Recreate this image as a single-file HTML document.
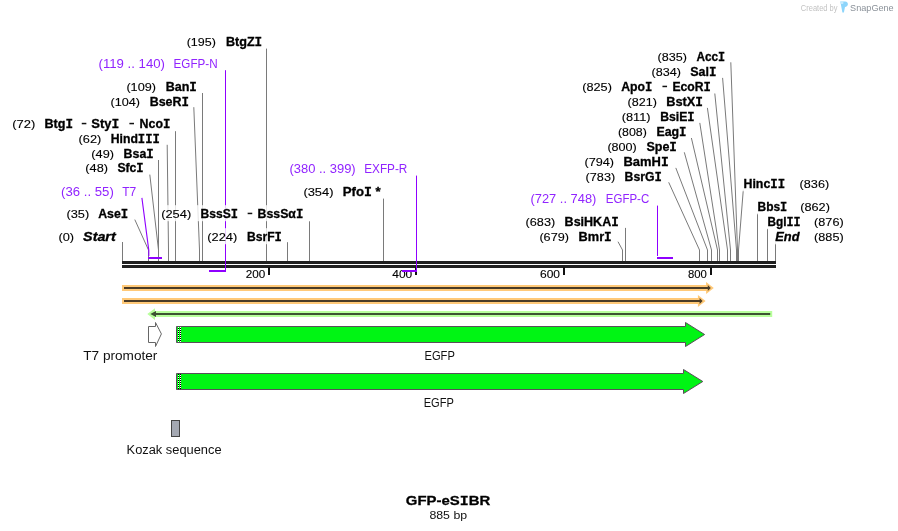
<!DOCTYPE html><html><head><meta charset="utf-8"><style>html,body{margin:0;padding:0;background:#fff;width:898px;height:531px;overflow:hidden;position:relative}svg text{font-family:"Liberation Sans",sans-serif} svg{will-change:transform}</style></head><body><svg width="898" height="531" viewBox="0 0 898 531" style="position:absolute;left:0;top:0">
<rect width="898" height="531" fill="#ffffff"/>
<path d="M122.50,242.00 L122.50,261.00" stroke="#7a7a7a" stroke-width="1" fill="none"/>
<path d="M134.80,219.60 L148.50,250.00 L148.50,261.00" stroke="#7a7a7a" stroke-width="1" fill="none"/>
<path d="M149.80,174.60 L158.50,250.00 L158.50,261.00" stroke="#7a7a7a" stroke-width="1" fill="none"/>
<path d="M158.50,160.00 L158.50,261.00" stroke="#7a7a7a" stroke-width="1" fill="none"/>
<path d="M167.20,144.80 L168.50,250.00 L168.50,261.00" stroke="#7a7a7a" stroke-width="1" fill="none"/>
<path d="M175.50,131.20 L175.50,261.00" stroke="#7a7a7a" stroke-width="1" fill="none"/>
<path d="M193.80,107.20 L199.50,250.00 L199.50,261.00" stroke="#7a7a7a" stroke-width="1" fill="none"/>
<path d="M202.50,93.00 L202.50,261.00" stroke="#7a7a7a" stroke-width="1" fill="none"/>
<path d="M266.50,48.60 L266.50,261.00" stroke="#7a7a7a" stroke-width="1" fill="none"/>
<path d="M287.50,242.20 L287.50,261.00" stroke="#7a7a7a" stroke-width="1" fill="none"/>
<path d="M309.50,221.30 L309.50,261.00" stroke="#7a7a7a" stroke-width="1" fill="none"/>
<path d="M383.50,198.60 L383.50,261.00" stroke="#7a7a7a" stroke-width="1" fill="none"/>
<path d="M618.00,241.70 L622.50,250.00 L622.50,261.00" stroke="#7a7a7a" stroke-width="1" fill="none"/>
<path d="M625.50,227.90 L625.50,261.00" stroke="#7a7a7a" stroke-width="1" fill="none"/>
<path d="M668.70,182.30 L699.50,250.00 L699.50,261.00" stroke="#7a7a7a" stroke-width="1" fill="none"/>
<path d="M675.80,167.90 L707.50,250.00 L707.50,261.00" stroke="#7a7a7a" stroke-width="1" fill="none"/>
<path d="M684.30,152.30 L711.50,250.00 L711.50,261.00" stroke="#7a7a7a" stroke-width="1" fill="none"/>
<path d="M691.40,138.00 L717.50,250.00 L717.50,261.00" stroke="#7a7a7a" stroke-width="1" fill="none"/>
<path d="M699.80,122.90 L719.50,250.00 L719.50,261.00" stroke="#7a7a7a" stroke-width="1" fill="none"/>
<path d="M707.40,107.90 L727.50,250.00 L727.50,261.00" stroke="#7a7a7a" stroke-width="1" fill="none"/>
<path d="M714.80,93.50 L730.50,250.00 L730.50,261.00" stroke="#7a7a7a" stroke-width="1" fill="none"/>
<path d="M722.60,77.90 L736.50,250.00 L736.50,261.00" stroke="#7a7a7a" stroke-width="1" fill="none"/>
<path d="M730.80,62.30 L737.50,250.00 L737.50,261.00" stroke="#7a7a7a" stroke-width="1" fill="none"/>
<path d="M743.30,189.70 L738.50,250.00 L738.50,261.00" stroke="#7a7a7a" stroke-width="1" fill="none"/>
<path d="M757.50,213.00 L757.50,261.00" stroke="#7a7a7a" stroke-width="1" fill="none"/>
<path d="M767.50,228.40 L767.50,261.00" stroke="#7a7a7a" stroke-width="1" fill="none"/>
<path d="M775.50,242.40 L775.50,261.00" stroke="#7a7a7a" stroke-width="1" fill="none"/>
<path d="M141.9,197.9 L148.8,250.4 L148.8,256" stroke="#8f00ff" stroke-width="1.1" fill="none"/>
<rect x="148" y="257" width="14" height="2" fill="#8f00ff"/>
<path d="M657.5,205.6 L657.5,256" stroke="#8f00ff" stroke-width="1" fill="none"/>
<rect x="657" y="257" width="16" height="2" fill="#8f00ff"/>
<rect x="122" y="261" width="654" height="3" fill="#202020"/>
<rect x="122" y="265" width="654" height="3" fill="#202020"/>
<path d="M122,285 L706.0999999999999,285 L706.0999999999999,282 L713.8,288 L706.0999999999999,294 L706.0999999999999,291 L122,291 Z" fill="#ffc978"/>
<path d="M124,287 L707.8,287 L707.8,285 L710.8,288 L707.8,291 L707.8,289 L124,289 Z" fill="#4a3b26"/>
<path d="M122,298 L697.9,298 L697.9,295 L705.6,301 L697.9,307 L697.9,304 L122,304 Z" fill="#ffc978"/>
<path d="M124,300 L699.6,300 L699.6,298 L702.6,301 L699.6,304 L699.6,302 L124,302 Z" fill="#4a3b26"/>
<path d="M772.2,311 L155,311 L155,308.2 L147.3,314 L155,320 L155,317 L772.2,317 Z" fill="#b8ff9c"/>
<path d="M770.2,313 L156,313 L156,311 L150.3,314 L156,317 L156,315 L770.2,315 Z" fill="#3d5232"/>
<path d="M148.5,326.5 L155.5,326.5 L155.5,322.5 L161.4,333.9 L155.5,346.5 L155.5,342.5 L148.5,342.5 Z" fill="#fff" stroke="#666" stroke-width="1"/>
<path d="M176.5,326.5 L685.5,326.5 L685.5,322.5 L704.6,334.5 L685.5,346.5 L685.5,342.5 L176.5,342.5 Z" fill="#00f514" stroke="#5a4e5a" stroke-width="1"/>
<rect x="178" y="327" width="1" height="1" fill="#fff"/>
<rect x="180" y="327" width="1" height="1" fill="#fff"/>
<rect x="178" y="328" width="1" height="1" fill="#000"/>
<rect x="180" y="328" width="1" height="1" fill="#000"/>
<rect x="178" y="329" width="1" height="1" fill="#fff"/>
<rect x="180" y="329" width="1" height="1" fill="#fff"/>
<rect x="178" y="330" width="1" height="1" fill="#000"/>
<rect x="180" y="330" width="1" height="1" fill="#000"/>
<rect x="178" y="331" width="1" height="1" fill="#fff"/>
<rect x="180" y="331" width="1" height="1" fill="#fff"/>
<rect x="178" y="332" width="1" height="1" fill="#000"/>
<rect x="180" y="332" width="1" height="1" fill="#000"/>
<rect x="178" y="333" width="1" height="1" fill="#fff"/>
<rect x="180" y="333" width="1" height="1" fill="#fff"/>
<rect x="178" y="334" width="1" height="1" fill="#000"/>
<rect x="180" y="334" width="1" height="1" fill="#000"/>
<rect x="178" y="335" width="1" height="1" fill="#fff"/>
<rect x="180" y="335" width="1" height="1" fill="#fff"/>
<rect x="178" y="336" width="1" height="1" fill="#000"/>
<rect x="180" y="336" width="1" height="1" fill="#000"/>
<rect x="178" y="337" width="1" height="1" fill="#fff"/>
<rect x="180" y="337" width="1" height="1" fill="#fff"/>
<rect x="178" y="338" width="1" height="1" fill="#000"/>
<rect x="180" y="338" width="1" height="1" fill="#000"/>
<rect x="178" y="339" width="1" height="1" fill="#fff"/>
<rect x="180" y="339" width="1" height="1" fill="#fff"/>
<rect x="178" y="340" width="1" height="1" fill="#000"/>
<rect x="180" y="340" width="1" height="1" fill="#000"/>
<rect x="178" y="341" width="1" height="1" fill="#fff"/>
<rect x="180" y="341" width="1" height="1" fill="#fff"/>
<path d="M176.5,373.5 L683.5,373.5 L683.5,369.5 L702.8,381.5 L683.5,393.5 L683.5,389.5 L176.5,389.5 Z" fill="#00f514" stroke="#5a4e5a" stroke-width="1"/>
<rect x="178" y="374" width="1" height="1" fill="#000"/>
<rect x="180" y="374" width="1" height="1" fill="#000"/>
<rect x="178" y="375" width="1" height="1" fill="#fff"/>
<rect x="180" y="375" width="1" height="1" fill="#fff"/>
<rect x="178" y="376" width="1" height="1" fill="#000"/>
<rect x="180" y="376" width="1" height="1" fill="#000"/>
<rect x="178" y="377" width="1" height="1" fill="#fff"/>
<rect x="180" y="377" width="1" height="1" fill="#fff"/>
<rect x="178" y="378" width="1" height="1" fill="#000"/>
<rect x="180" y="378" width="1" height="1" fill="#000"/>
<rect x="178" y="379" width="1" height="1" fill="#fff"/>
<rect x="180" y="379" width="1" height="1" fill="#fff"/>
<rect x="178" y="380" width="1" height="1" fill="#000"/>
<rect x="180" y="380" width="1" height="1" fill="#000"/>
<rect x="178" y="381" width="1" height="1" fill="#fff"/>
<rect x="180" y="381" width="1" height="1" fill="#fff"/>
<rect x="178" y="382" width="1" height="1" fill="#000"/>
<rect x="180" y="382" width="1" height="1" fill="#000"/>
<rect x="178" y="383" width="1" height="1" fill="#fff"/>
<rect x="180" y="383" width="1" height="1" fill="#fff"/>
<rect x="178" y="384" width="1" height="1" fill="#000"/>
<rect x="180" y="384" width="1" height="1" fill="#000"/>
<rect x="178" y="385" width="1" height="1" fill="#fff"/>
<rect x="180" y="385" width="1" height="1" fill="#fff"/>
<rect x="178" y="386" width="1" height="1" fill="#000"/>
<rect x="180" y="386" width="1" height="1" fill="#000"/>
<rect x="178" y="387" width="1" height="1" fill="#fff"/>
<rect x="180" y="387" width="1" height="1" fill="#fff"/>
<rect x="178" y="388" width="1" height="1" fill="#000"/>
<rect x="180" y="388" width="1" height="1" fill="#000"/>
<rect x="171.5" y="420.5" width="8" height="16" fill="#a4a8b2" stroke="#444" stroke-width="1"/>
<path d="M840.3,1.5 L845,1.5 C847.3,1.5 847.9,3 847.9,4.3 C847.9,5.8 846.6,6.9 845,6.9 L843.9,12.6 L842.4,12.6 Z" fill="#8dd5fb"/>
<path d="M840.3,1.5 L843.5,1.5 L843.2,4 L840.9,4 Z" fill="#c5ebff"/>
<rect x="268" y="267" width="2" height="8" fill="#111"/>
<rect x="415" y="267" width="2" height="8" fill="#111"/>
<rect x="563" y="267" width="2" height="8" fill="#111"/>
<rect x="710" y="267" width="2" height="8" fill="#111"/>
<text id="t70" x="245.80" y="277.70" textLength="19.51" lengthAdjust="spacingAndGlyphs" font-size="11.5" font-weight="normal" font-style="normal" fill="#000000" stroke="#000000" stroke-width="0.12">200</text>
<text id="t71" x="392.30" y="277.70" textLength="19.91" lengthAdjust="spacingAndGlyphs" font-size="11.5" font-weight="normal" font-style="normal" fill="#000000" stroke="#000000" stroke-width="0.12">400</text>
<text id="t72" x="540.00" y="277.70" textLength="20.01" lengthAdjust="spacingAndGlyphs" font-size="11.5" font-weight="normal" font-style="normal" fill="#000000" stroke="#000000" stroke-width="0.12">600</text>
<text id="t73" x="687.90" y="277.70" textLength="18.91" lengthAdjust="spacingAndGlyphs" font-size="11.5" font-weight="normal" font-style="normal" fill="#000000" stroke="#000000" stroke-width="0.12">800</text>
<path d="M225.5,70.2 L225.5,272" stroke="#8f00ff" stroke-width="1" fill="none"/>
<rect x="209" y="270" width="17" height="2" fill="#8f00ff"/>
<path d="M416.5,175.6 L416.5,272" stroke="#8f00ff" stroke-width="1" fill="none"/>
<rect x="402" y="270" width="15" height="2" fill="#8f00ff"/>
<rect x="184.7" y="33.2" width="79.5" height="16" fill="#fff" fill-opacity="0.8"/>
<rect x="96.5" y="55.5" width="123.1" height="16" fill="#fff" fill-opacity="0.8"/>
<rect x="124.4" y="78.2" width="74.5" height="16" fill="#fff" fill-opacity="0.8"/>
<rect x="108.5" y="93.0" width="82.5" height="16" fill="#fff" fill-opacity="0.8"/>
<rect x="10.2" y="115.3" width="162.2" height="16" fill="#fff" fill-opacity="0.8"/>
<rect x="76.6" y="130.5" width="85.3" height="16" fill="#fff" fill-opacity="0.8"/>
<rect x="89.3" y="145.4" width="66.4" height="16" fill="#fff" fill-opacity="0.8"/>
<rect x="83.3" y="159.9" width="62.4" height="16" fill="#fff" fill-opacity="0.8"/>
<rect x="59.1" y="183.1" width="79.2" height="16" fill="#fff" fill-opacity="0.8"/>
<rect x="64.5" y="205.2" width="65.7" height="16" fill="#fff" fill-opacity="0.8"/>
<rect x="56.5" y="228.2" width="61.7" height="16" fill="#fff" fill-opacity="0.8"/>
<rect x="159.2" y="205.2" width="146.1" height="16" fill="#fff" fill-opacity="0.8"/>
<rect x="205.3" y="228.2" width="78.6" height="16" fill="#fff" fill-opacity="0.8"/>
<rect x="287.4" y="160.5" width="122.0" height="16" fill="#fff" fill-opacity="0.8"/>
<rect x="301.4" y="183.2" width="81.3" height="16" fill="#fff" fill-opacity="0.8"/>
<rect x="528.5" y="190.5" width="122.7" height="16" fill="#fff" fill-opacity="0.8"/>
<rect x="523.6" y="213.2" width="97.1" height="16" fill="#fff" fill-opacity="0.8"/>
<rect x="537.4" y="228.1" width="76.4" height="16" fill="#fff" fill-opacity="0.8"/>
<rect x="655.5" y="48.2" width="71.7" height="16" fill="#fff" fill-opacity="0.8"/>
<rect x="649.5" y="63.2" width="69.0" height="16" fill="#fff" fill-opacity="0.8"/>
<rect x="580.2" y="78.2" width="132.6" height="16" fill="#fff" fill-opacity="0.8"/>
<rect x="625.5" y="93.2" width="79.5" height="16" fill="#fff" fill-opacity="0.8"/>
<rect x="619.7" y="108.2" width="77.0" height="16" fill="#fff" fill-opacity="0.8"/>
<rect x="615.9" y="123.2" width="72.6" height="16" fill="#fff" fill-opacity="0.8"/>
<rect x="605.4" y="138.2" width="73.5" height="16" fill="#fff" fill-opacity="0.8"/>
<rect x="582.5" y="153.2" width="88.2" height="16" fill="#fff" fill-opacity="0.8"/>
<rect x="583.6" y="168.2" width="80.2" height="16" fill="#fff" fill-opacity="0.8"/>
<rect x="741.5" y="175.3" width="89.7" height="16" fill="#fff" fill-opacity="0.8"/>
<rect x="755.5" y="198.3" width="76.4" height="16" fill="#fff" fill-opacity="0.8"/>
<rect x="765.5" y="213.2" width="80.2" height="16" fill="#fff" fill-opacity="0.8"/>
<rect x="773.3" y="228.3" width="72.4" height="16" fill="#fff" fill-opacity="0.8"/>
<text id="t0" x="186.70" y="45.70" textLength="29.20" lengthAdjust="spacingAndGlyphs" font-size="11.5" font-weight="normal" font-style="normal" fill="#000000" stroke="#000000" stroke-width="0.12">(195)</text>
<text id="t1" x="225.90" y="45.70" textLength="36.30" lengthAdjust="spacingAndGlyphs" font-size="12.0" font-weight="bold" font-style="normal" fill="#000000" stroke="#000000" stroke-width="0.3">BtgZ<tspan font-family="Liberation Mono" font-size="12.00">I</tspan></text>
<text id="t2" x="98.50" y="68.00" textLength="66.51" lengthAdjust="spacingAndGlyphs" font-size="12.0" font-weight="normal" font-style="normal" fill="#9124ff">(119 .. 140)</text>
<text id="t3" x="173.60" y="68.00" textLength="44.01" lengthAdjust="spacingAndGlyphs" font-size="12.0" font-weight="normal" font-style="normal" fill="#9124ff">EGFP-N</text>
<text id="t4" x="126.40" y="90.70" textLength="29.60" lengthAdjust="spacingAndGlyphs" font-size="11.5" font-weight="normal" font-style="normal" fill="#000000" stroke="#000000" stroke-width="0.12">(109)</text>
<text id="t5" x="165.70" y="90.70" textLength="31.20" lengthAdjust="spacingAndGlyphs" font-size="12.0" font-weight="bold" font-style="normal" fill="#000000" stroke="#000000" stroke-width="0.3">Ban<tspan font-family="Liberation Mono" font-size="12.00">I</tspan></text>
<text id="t6" x="110.50" y="105.50" textLength="29.50" lengthAdjust="spacingAndGlyphs" font-size="11.5" font-weight="normal" font-style="normal" fill="#000000" stroke="#000000" stroke-width="0.12">(104)</text>
<text id="t7" x="149.70" y="105.50" textLength="39.30" lengthAdjust="spacingAndGlyphs" font-size="12.0" font-weight="bold" font-style="normal" fill="#000000" stroke="#000000" stroke-width="0.3">BseR<tspan font-family="Liberation Mono" font-size="12.00">I</tspan></text>
<text id="t8" x="12.20" y="127.80" textLength="23.00" lengthAdjust="spacingAndGlyphs" font-size="11.5" font-weight="normal" font-style="normal" fill="#000000" stroke="#000000" stroke-width="0.12">(72)</text>
<text id="t9" x="44.50" y="127.80" textLength="28.50" lengthAdjust="spacingAndGlyphs" font-size="12.0" font-weight="bold" font-style="normal" fill="#000000" stroke="#000000" stroke-width="0.3">Btg<tspan font-family="Liberation Mono" font-size="12.00">I</tspan></text>
<rect id="t10" x="81.75" y="122.80" width="4.6" height="1.5" fill="#111"/>
<text id="t11" x="91.30" y="127.80" textLength="27.90" lengthAdjust="spacingAndGlyphs" font-size="12.0" font-weight="bold" font-style="normal" fill="#000000" stroke="#000000" stroke-width="0.3">Sty<tspan font-family="Liberation Mono" font-size="12.00">I</tspan></text>
<rect id="t12" x="129.40" y="122.80" width="4.6" height="1.5" fill="#111"/>
<text id="t13" x="139.60" y="127.80" textLength="30.80" lengthAdjust="spacingAndGlyphs" font-size="12.0" font-weight="bold" font-style="normal" fill="#000000" stroke="#000000" stroke-width="0.3">Nco<tspan font-family="Liberation Mono" font-size="12.00">I</tspan></text>
<text id="t14" x="78.60" y="143.00" textLength="22.70" lengthAdjust="spacingAndGlyphs" font-size="11.5" font-weight="normal" font-style="normal" fill="#000000" stroke="#000000" stroke-width="0.12">(62)</text>
<text id="t15" x="110.70" y="143.00" textLength="49.20" lengthAdjust="spacingAndGlyphs" font-size="12.0" font-weight="bold" font-style="normal" fill="#000000" stroke="#000000" stroke-width="0.3">Hind<tspan font-family="Liberation Mono" font-size="12.00">I</tspan><tspan font-family="Liberation Mono" font-size="12.00">I</tspan><tspan font-family="Liberation Mono" font-size="12.00">I</tspan></text>
<text id="t16" x="91.30" y="157.90" textLength="22.70" lengthAdjust="spacingAndGlyphs" font-size="11.5" font-weight="normal" font-style="normal" fill="#000000" stroke="#000000" stroke-width="0.12">(49)</text>
<text id="t17" x="123.60" y="157.90" textLength="30.10" lengthAdjust="spacingAndGlyphs" font-size="12.0" font-weight="bold" font-style="normal" fill="#000000" stroke="#000000" stroke-width="0.3">Bsa<tspan font-family="Liberation Mono" font-size="12.00">I</tspan></text>
<text id="t18" x="85.30" y="172.40" textLength="22.70" lengthAdjust="spacingAndGlyphs" font-size="11.5" font-weight="normal" font-style="normal" fill="#000000" stroke="#000000" stroke-width="0.12">(48)</text>
<text id="t19" x="117.40" y="172.40" textLength="26.30" lengthAdjust="spacingAndGlyphs" font-size="12.0" font-weight="bold" font-style="normal" fill="#000000" stroke="#000000" stroke-width="0.3">Sfc<tspan font-family="Liberation Mono" font-size="12.00">I</tspan></text>
<text id="t20" x="61.10" y="195.60" textLength="52.70" lengthAdjust="spacingAndGlyphs" font-size="12.0" font-weight="normal" font-style="normal" fill="#9124ff">(36 .. 55)</text>
<text id="t21" x="122.20" y="195.60" textLength="14.10" lengthAdjust="spacingAndGlyphs" font-size="12.0" font-weight="normal" font-style="normal" fill="#9124ff">T7</text>
<text id="t22" x="66.50" y="217.70" textLength="22.70" lengthAdjust="spacingAndGlyphs" font-size="11.5" font-weight="normal" font-style="normal" fill="#000000" stroke="#000000" stroke-width="0.12">(35)</text>
<text id="t23" x="98.20" y="217.70" textLength="30.00" lengthAdjust="spacingAndGlyphs" font-size="12.0" font-weight="bold" font-style="normal" fill="#000000" stroke="#000000" stroke-width="0.3">Ase<tspan font-family="Liberation Mono" font-size="12.00">I</tspan></text>
<text id="t24" x="58.50" y="240.70" textLength="15.61" lengthAdjust="spacingAndGlyphs" font-size="11.5" font-weight="normal" font-style="normal" fill="#000000" stroke="#000000" stroke-width="0.12">(0)</text>
<text id="t25" x="83.10" y="240.70" textLength="32.58" lengthAdjust="spacingAndGlyphs" font-size="12.0" font-weight="bold" font-style="italic" fill="#000000" stroke="#000000" stroke-width="0.3">Start</text>
<text id="t26" x="161.20" y="217.70" textLength="30.00" lengthAdjust="spacingAndGlyphs" font-size="11.5" font-weight="normal" font-style="normal" fill="#000000" stroke="#000000" stroke-width="0.12">(254)</text>
<text id="t27" x="200.60" y="217.70" textLength="37.40" lengthAdjust="spacingAndGlyphs" font-size="12.0" font-weight="bold" font-style="normal" fill="#000000" stroke="#000000" stroke-width="0.3">BssS<tspan font-family="Liberation Mono" font-size="12.00">I</tspan></text>
<rect id="t28" x="247.65" y="212.70" width="4.6" height="1.5" fill="#111"/>
<text id="t29" x="257.60" y="217.70" textLength="45.70" lengthAdjust="spacingAndGlyphs" font-size="12.0" font-weight="bold" font-style="normal" fill="#000000" stroke="#000000" stroke-width="0.3">BssSα<tspan font-family="Liberation Mono" font-size="12.00">I</tspan></text>
<text id="t30" x="207.30" y="240.70" textLength="30.00" lengthAdjust="spacingAndGlyphs" font-size="11.5" font-weight="normal" font-style="normal" fill="#000000" stroke="#000000" stroke-width="0.12">(224)</text>
<text id="t31" x="246.90" y="240.70" textLength="35.00" lengthAdjust="spacingAndGlyphs" font-size="12.0" font-weight="bold" font-style="normal" fill="#000000" stroke="#000000" stroke-width="0.3">BsrF<tspan font-family="Liberation Mono" font-size="12.00">I</tspan></text>
<text id="t32" x="289.40" y="173.00" textLength="66.30" lengthAdjust="spacingAndGlyphs" font-size="12.0" font-weight="normal" font-style="normal" fill="#9124ff">(380 .. 399)</text>
<text id="t33" x="364.20" y="173.00" textLength="43.20" lengthAdjust="spacingAndGlyphs" font-size="12.0" font-weight="normal" font-style="normal" fill="#9124ff">EXFP-R</text>
<text id="t34" x="303.40" y="195.70" textLength="30.10" lengthAdjust="spacingAndGlyphs" font-size="11.5" font-weight="normal" font-style="normal" fill="#000000" stroke="#000000" stroke-width="0.12">(354)</text>
<text id="t35" x="342.80" y="195.70" textLength="37.90" lengthAdjust="spacingAndGlyphs" font-size="12.0" font-weight="bold" font-style="normal" fill="#000000" stroke="#000000" stroke-width="0.3">Pfo<tspan font-family="Liberation Mono" font-size="12.00">I</tspan> *</text>
<text id="t36" x="530.50" y="203.00" textLength="65.90" lengthAdjust="spacingAndGlyphs" font-size="12.0" font-weight="normal" font-style="normal" fill="#9124ff">(727 .. 748)</text>
<text id="t37" x="605.80" y="203.00" textLength="43.41" lengthAdjust="spacingAndGlyphs" font-size="12.0" font-weight="normal" font-style="normal" fill="#9124ff">EGFP-C</text>
<text id="t38" x="525.60" y="225.70" textLength="29.60" lengthAdjust="spacingAndGlyphs" font-size="11.5" font-weight="normal" font-style="normal" fill="#000000" stroke="#000000" stroke-width="0.12">(683)</text>
<text id="t39" x="564.60" y="225.70" textLength="54.10" lengthAdjust="spacingAndGlyphs" font-size="12.0" font-weight="bold" font-style="normal" fill="#000000" stroke="#000000" stroke-width="0.3">BsiHKA<tspan font-family="Liberation Mono" font-size="12.00">I</tspan></text>
<text id="t40" x="539.40" y="240.60" textLength="29.60" lengthAdjust="spacingAndGlyphs" font-size="11.5" font-weight="normal" font-style="normal" fill="#000000" stroke="#000000" stroke-width="0.12">(679)</text>
<text id="t41" x="578.60" y="240.60" textLength="33.20" lengthAdjust="spacingAndGlyphs" font-size="12.0" font-weight="bold" font-style="normal" fill="#000000" stroke="#000000" stroke-width="0.3">Bmr<tspan font-family="Liberation Mono" font-size="12.00">I</tspan></text>
<text id="t42" x="657.50" y="60.70" textLength="29.40" lengthAdjust="spacingAndGlyphs" font-size="11.5" font-weight="normal" font-style="normal" fill="#000000" stroke="#000000" stroke-width="0.12">(835)</text>
<text id="t43" x="696.50" y="60.70" textLength="28.70" lengthAdjust="spacingAndGlyphs" font-size="12.0" font-weight="bold" font-style="normal" fill="#000000" stroke="#000000" stroke-width="0.3">Acc<tspan font-family="Liberation Mono" font-size="12.00">I</tspan></text>
<text id="t44" x="651.50" y="75.70" textLength="29.40" lengthAdjust="spacingAndGlyphs" font-size="11.5" font-weight="normal" font-style="normal" fill="#000000" stroke="#000000" stroke-width="0.12">(834)</text>
<text id="t45" x="690.30" y="75.70" textLength="26.20" lengthAdjust="spacingAndGlyphs" font-size="12.0" font-weight="bold" font-style="normal" fill="#000000" stroke="#000000" stroke-width="0.3">Sal<tspan font-family="Liberation Mono" font-size="12.00">I</tspan></text>
<text id="t46" x="582.20" y="90.70" textLength="29.70" lengthAdjust="spacingAndGlyphs" font-size="11.5" font-weight="normal" font-style="normal" fill="#000000" stroke="#000000" stroke-width="0.12">(825)</text>
<text id="t47" x="621.20" y="90.70" textLength="31.20" lengthAdjust="spacingAndGlyphs" font-size="12.0" font-weight="bold" font-style="normal" fill="#000000" stroke="#000000" stroke-width="0.3">Apo<tspan font-family="Liberation Mono" font-size="12.00">I</tspan></text>
<rect id="t48" x="662.45" y="85.70" width="4.6" height="1.5" fill="#111"/>
<text id="t49" x="672.40" y="90.70" textLength="38.40" lengthAdjust="spacingAndGlyphs" font-size="12.0" font-weight="bold" font-style="normal" fill="#000000" stroke="#000000" stroke-width="0.3">EcoR<tspan font-family="Liberation Mono" font-size="12.00">I</tspan></text>
<text id="t50" x="627.50" y="105.70" textLength="29.40" lengthAdjust="spacingAndGlyphs" font-size="11.5" font-weight="normal" font-style="normal" fill="#000000" stroke="#000000" stroke-width="0.12">(821)</text>
<text id="t51" x="666.20" y="105.70" textLength="36.80" lengthAdjust="spacingAndGlyphs" font-size="12.0" font-weight="bold" font-style="normal" fill="#000000" stroke="#000000" stroke-width="0.3">BstX<tspan font-family="Liberation Mono" font-size="12.00">I</tspan></text>
<text id="t52" x="621.70" y="120.70" textLength="28.89" lengthAdjust="spacingAndGlyphs" font-size="11.5" font-weight="normal" font-style="normal" fill="#000000" stroke="#000000" stroke-width="0.12">(811)</text>
<text id="t53" x="660.20" y="120.70" textLength="34.50" lengthAdjust="spacingAndGlyphs" font-size="12.0" font-weight="bold" font-style="normal" fill="#000000" stroke="#000000" stroke-width="0.3">BsiE<tspan font-family="Liberation Mono" font-size="12.00">I</tspan></text>
<text id="t54" x="617.90" y="135.70" textLength="28.90" lengthAdjust="spacingAndGlyphs" font-size="11.5" font-weight="normal" font-style="normal" fill="#000000" stroke="#000000" stroke-width="0.12">(808)</text>
<text id="t55" x="656.40" y="135.70" textLength="30.10" lengthAdjust="spacingAndGlyphs" font-size="12.0" font-weight="bold" font-style="normal" fill="#000000" stroke="#000000" stroke-width="0.3">Eag<tspan font-family="Liberation Mono" font-size="12.00">I</tspan></text>
<text id="t56" x="607.40" y="150.70" textLength="29.40" lengthAdjust="spacingAndGlyphs" font-size="11.5" font-weight="normal" font-style="normal" fill="#000000" stroke="#000000" stroke-width="0.12">(800)</text>
<text id="t57" x="646.40" y="150.70" textLength="30.50" lengthAdjust="spacingAndGlyphs" font-size="12.0" font-weight="bold" font-style="normal" fill="#000000" stroke="#000000" stroke-width="0.3">Spe<tspan font-family="Liberation Mono" font-size="12.00">I</tspan></text>
<text id="t58" x="584.50" y="165.70" textLength="29.60" lengthAdjust="spacingAndGlyphs" font-size="11.5" font-weight="normal" font-style="normal" fill="#000000" stroke="#000000" stroke-width="0.12">(794)</text>
<text id="t59" x="623.50" y="165.70" textLength="45.20" lengthAdjust="spacingAndGlyphs" font-size="12.0" font-weight="bold" font-style="normal" fill="#000000" stroke="#000000" stroke-width="0.3">BamH<tspan font-family="Liberation Mono" font-size="12.00">I</tspan></text>
<text id="t60" x="585.60" y="180.70" textLength="29.60" lengthAdjust="spacingAndGlyphs" font-size="11.5" font-weight="normal" font-style="normal" fill="#000000" stroke="#000000" stroke-width="0.12">(783)</text>
<text id="t61" x="624.60" y="180.70" textLength="37.20" lengthAdjust="spacingAndGlyphs" font-size="12.0" font-weight="bold" font-style="normal" fill="#000000" stroke="#000000" stroke-width="0.3">BsrG<tspan font-family="Liberation Mono" font-size="12.00">I</tspan></text>
<text id="t62" x="743.50" y="187.80" textLength="41.60" lengthAdjust="spacingAndGlyphs" font-size="12.0" font-weight="bold" font-style="normal" fill="#000000" stroke="#000000" stroke-width="0.3">Hinc<tspan font-family="Liberation Mono" font-size="12.00">I</tspan><tspan font-family="Liberation Mono" font-size="12.00">I</tspan></text>
<text id="t63" x="799.60" y="187.80" textLength="29.60" lengthAdjust="spacingAndGlyphs" font-size="11.5" font-weight="normal" font-style="normal" fill="#000000" stroke="#000000" stroke-width="0.12">(836)</text>
<text id="t64" x="757.50" y="210.80" textLength="29.80" lengthAdjust="spacingAndGlyphs" font-size="12.0" font-weight="bold" font-style="normal" fill="#000000" stroke="#000000" stroke-width="0.3">Bbs<tspan font-family="Liberation Mono" font-size="12.00">I</tspan></text>
<text id="t65" x="800.20" y="210.80" textLength="29.70" lengthAdjust="spacingAndGlyphs" font-size="11.5" font-weight="normal" font-style="normal" fill="#000000" stroke="#000000" stroke-width="0.12">(862)</text>
<text id="t66" x="767.50" y="225.70" textLength="33.20" lengthAdjust="spacingAndGlyphs" font-size="12.0" font-weight="bold" font-style="normal" fill="#000000" stroke="#000000" stroke-width="0.3">Bgl<tspan font-family="Liberation Mono" font-size="12.00">I</tspan><tspan font-family="Liberation Mono" font-size="12.00">I</tspan></text>
<text id="t67" x="814.10" y="225.70" textLength="29.60" lengthAdjust="spacingAndGlyphs" font-size="11.5" font-weight="normal" font-style="normal" fill="#000000" stroke="#000000" stroke-width="0.12">(876)</text>
<text id="t68" x="775.30" y="240.80" textLength="24.27" lengthAdjust="spacingAndGlyphs" font-size="12.0" font-weight="bold" font-style="italic" fill="#000000" stroke="#000000" stroke-width="0.3">End</text>
<text id="t69" x="814.10" y="240.80" textLength="29.60" lengthAdjust="spacingAndGlyphs" font-size="11.5" font-weight="normal" font-style="normal" fill="#000000" stroke="#000000" stroke-width="0.12">(885)</text>
<text id="t74" x="83.30" y="360.00" textLength="74.09" lengthAdjust="spacingAndGlyphs" font-size="12.3" font-weight="normal" font-style="normal" fill="#111111">T7 promoter</text>
<text id="t75" x="424.50" y="360.00" textLength="30.39" lengthAdjust="spacingAndGlyphs" font-size="12.3" font-weight="normal" font-style="normal" fill="#111111">EGFP</text>
<text id="t76" x="423.70" y="407.10" textLength="30.19" lengthAdjust="spacingAndGlyphs" font-size="12.3" font-weight="normal" font-style="normal" fill="#111111">EGFP</text>
<text id="t77" x="126.60" y="453.80" textLength="95.00" lengthAdjust="spacingAndGlyphs" font-size="12.3" font-weight="normal" font-style="normal" fill="#111111">Kozak sequence</text>
<text id="t78" x="405.80" y="504.70" textLength="84.39" lengthAdjust="spacingAndGlyphs" font-size="13.6" font-weight="bold" font-style="normal" fill="#000000" stroke="#000000" stroke-width="0.3">GFP-eS<tspan font-family="Liberation Mono" font-size="13.60">I</tspan>BR</text>
<text id="t79" x="429.40" y="518.80" textLength="37.70" lengthAdjust="spacingAndGlyphs" font-size="10.6" font-weight="normal" font-style="normal" fill="#111111">885 bp</text>
<text id="t80" x="800.80" y="10.60" textLength="36.70" lengthAdjust="spacingAndGlyphs" font-size="8.8" font-weight="normal" font-style="normal" fill="#c2c2c2">Created by</text>
<text id="t81" x="850.10" y="10.60" textLength="43.61" lengthAdjust="spacingAndGlyphs" font-size="9.8" font-weight="normal" font-style="normal" fill="#8a9199">SnapGene</text>
</svg></body></html>
